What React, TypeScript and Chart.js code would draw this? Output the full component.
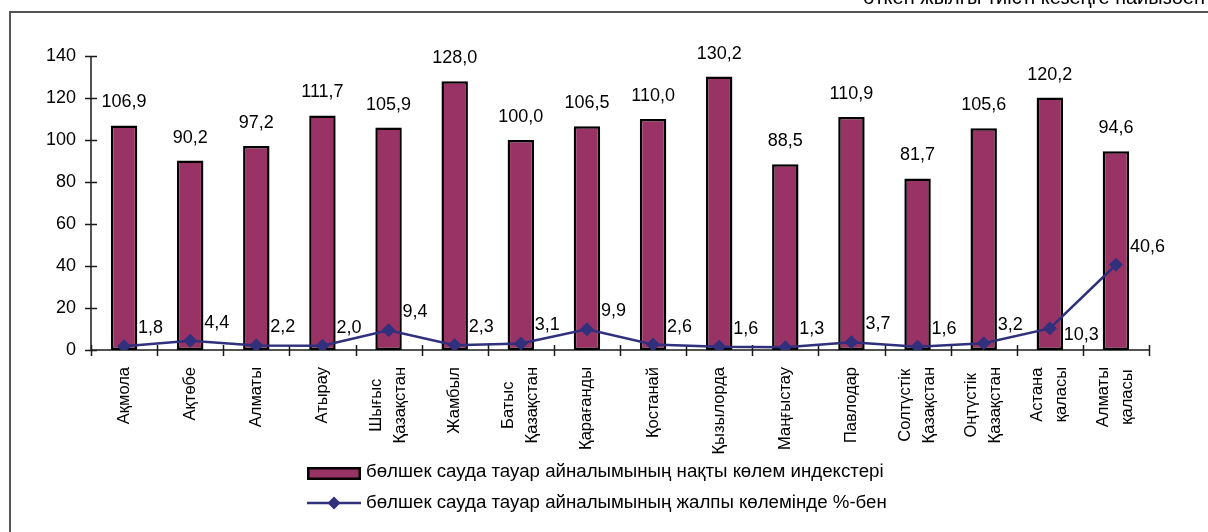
import { useEffect, useRef } from 'react';
import { Chart, registerables } from 'chart.js';

Chart.register(...registerables);

const FONT = '"Liberation Sans", Arial, Helvetica, sans-serif';

const categories: string[][] = [
  ['Ақмола'],
  ['Ақтөбе'],
  ['Алматы'],
  ['Атырау'],
  ['Шығыс', 'Қазақстан'],
  ['Жамбыл'],
  ['Батыс', 'Қазақстан'],
  ['Қарағанды'],
  ['Қостанай'],
  ['Қызылорда'],
  ['Маңғыстау'],
  ['Павлодар'],
  ['Солтүстік', 'Қазақстан'],
  ['Оңтүстік', 'Қазақстан'],
  ['Астана', 'қаласы'],
  ['Алматы', 'қаласы'],
];

const volumeIndex = [106.9, 90.2, 97.2, 111.7, 105.9, 128.0, 100.0, 106.5, 110.0, 130.2, 88.5, 110.9, 81.7, 105.6, 120.2, 94.6];
const shareOfTotal = [1.8, 4.4, 2.2, 2.0, 9.4, 2.3, 3.1, 9.9, 2.6, 1.6, 1.3, 3.7, 1.6, 3.2, 10.3, 40.6];

const yTicks = [0, 20, 40, 60, 80, 100, 120, 140];

const barSeriesName = 'бөлшек сауда тауар айналымының нақты көлем индекстері';
const lineSeriesName = 'бөлшек сауда тауар айналымының жалпы көлемінде %-бен';
const cornerText = 'өткен жылғы тиісті кезеңге пайызбен';

const BAR_COLOR = '#993366';
const LINE_COLOR = '#30307C';
const AXIS_COLOR = '#1a1a1a';

const fmt = (v: number) => v.toFixed(1).replace('.', ',');

export default function App() {
  const ref = useRef<HTMLCanvasElement>(null);

  useEffect(() => {
    const canvas = ref.current;
    if (!canvas) return;

    const decor = {
      id: 'decor',
      beforeDatasetsDraw(chart: any) {
        const ctx = chart.ctx as CanvasRenderingContext2D;
        const xs = chart.scales.x;
        const ys = chart.scales.y;
        const area = chart.chartArea;
        ctx.save();
        // outer frame
        ctx.strokeStyle = '#555';
        ctx.lineWidth = 2;
        ctx.beginPath();
        ctx.moveTo(1208, 12);
        ctx.lineTo(10, 12);
        ctx.lineTo(10, 532);
        ctx.stroke();
        // corner text (cut off at top)
        ctx.fillStyle = '#000';
        ctx.font = `20px ${FONT}`;
        ctx.textAlign = 'right';
        ctx.textBaseline = 'alphabetic';
        ctx.fillText(cornerText, 1205, 4);
        // axes
        ctx.strokeStyle = AXIS_COLOR;
        ctx.lineWidth = 1.5;
        ctx.beginPath();
        ctx.moveTo(area.left, area.top);
        ctx.lineTo(area.left, area.bottom);
        ctx.lineTo(area.right, area.bottom);
        yTicks.forEach((t) => {
          const y = Math.round(ys.getPixelForValue(t)) + 0.5;
          ctx.moveTo(area.left - 6, y);
          ctx.lineTo(area.left + 6, y);
        });
        for (let i = 0; i <= categories.length; i++) {
          const x = Math.round(xs.getPixelForValue(i - 0.5)) + 0.5;
          ctx.moveTo(x, area.bottom - 5);
          ctx.lineTo(x, area.bottom + 6);
        }
        ctx.stroke();
        ctx.restore();
      },
      afterDatasetsDraw(chart: any) {
        const ctx = chart.ctx as CanvasRenderingContext2D;
        const xs = chart.scales.x;
        const area = chart.chartArea;
        ctx.save();
        ctx.fillStyle = '#000';
        // bar value labels
        ctx.font = `18px ${FONT}`;
        ctx.textAlign = 'center';
        ctx.textBaseline = 'middle';
        const barMeta = chart.getDatasetMeta(1);
        barMeta.data.forEach((el: any, i: number) => {
          ctx.fillText(fmt(volumeIndex[i]), el.x, el.y - 23);
        });
        // line value labels
        ctx.textAlign = 'left';
        const lineMeta = chart.getDatasetMeta(0);
        lineMeta.data.forEach((el: any, i: number) => {
          const below = i === 14;
          ctx.fillText(fmt(shareOfTotal[i]), el.x + 14, below ? el.y + 7 : el.y - 18);
        });
        // category labels, rotated
        ctx.font = `16.5px ${FONT}`;
        categories.forEach((lines, i) => {
          const x = xs.getPixelForValue(i);
          const maxW = Math.max(...lines.map((l) => ctx.measureText(l).width));
          ctx.save();
          ctx.translate(x, area.bottom + 17);
          ctx.rotate(-Math.PI / 2);
          ctx.textAlign = 'center';
          ctx.textBaseline = 'middle';
          lines.forEach((l, j) => {
            const off = (j - (lines.length - 1) / 2) * 24;
            ctx.fillText(l, -maxW / 2, off);
          });
          ctx.restore();
        });
        // legend
        ctx.textAlign = 'left';
        ctx.textBaseline = 'middle';
        ctx.fillStyle = BAR_COLOR;
        ctx.fillRect(307, 467, 54, 13);
        ctx.strokeStyle = '#000';
        ctx.lineWidth = 2.5;
        ctx.strokeRect(308.25, 468.25, 51.5, 10.5);
        ctx.fillStyle = '#000';
        ctx.font = `18.7px ${FONT}`;
        ctx.fillText(barSeriesName, 366, 472);
        ctx.strokeStyle = LINE_COLOR;
        ctx.lineWidth = 2.5;
        ctx.beginPath();
        ctx.moveTo(307, 503);
        ctx.lineTo(361, 503);
        ctx.stroke();
        ctx.fillStyle = LINE_COLOR;
        ctx.beginPath();
        ctx.moveTo(334 - 6.5, 503);
        ctx.lineTo(334, 503 - 6.5);
        ctx.lineTo(334 + 6.5, 503);
        ctx.lineTo(334, 503 + 6.5);
        ctx.closePath();
        ctx.fill();
        ctx.fillStyle = '#000';
        ctx.fillText(lineSeriesName, 366, 503);
        ctx.restore();
      },
    };

    const chart = new Chart(canvas, {
      type: 'bar',
      data: {
        labels: categories.map((c) => c.join(' ')),
        datasets: [
          {
            type: 'line',
            label: lineSeriesName,
            data: shareOfTotal,
            borderColor: LINE_COLOR,
            backgroundColor: LINE_COLOR,
            borderWidth: 2.5,
            pointStyle: 'rectRot',
            pointRadius: 6.5,
            pointHoverRadius: 6.5,
            pointBackgroundColor: LINE_COLOR,
            pointBorderColor: LINE_COLOR,
            pointBorderWidth: 1,
            tension: 0,
            order: 0,
          } as any,
          {
            type: 'bar',
            label: barSeriesName,
            data: volumeIndex,
            backgroundColor: BAR_COLOR,
            borderColor: '#000',
            borderWidth: 2.5,
            borderSkipped: false,
            barPercentage: 0.4,
            categoryPercentage: 1,
            order: 1,
          } as any,
        ],
      },
      options: {
        responsive: false,
        animation: false,
        events: [],
        layout: { padding: { left: 0, right: 59, top: 56, bottom: 0 } },
        plugins: {
          legend: { display: false },
          tooltip: { enabled: false },
          title: { display: false },
        },
        scales: {
          x: {
            type: 'category',
            offset: true,
            grid: { display: false, drawTicks: false },
            border: { display: false },
            ticks: { display: false },
            afterFit: (s: any) => {
              s.height = 182;
            },
          },
          y: {
            min: 0,
            max: 140,
            ticks: {
              stepSize: 20,
              padding: 15,
              color: '#000',
              font: { size: 18, family: FONT },
            },
            grid: { display: false, drawTicks: false },
            border: { display: false },
            afterFit: (s: any) => {
              s.width = 91;
            },
          },
        },
      } as any,
      plugins: [decor],
    });

    return () => chart.destroy();
  }, []);

  return (
    <div style={{ position: 'fixed', left: 0, top: 0, width: 1208, height: 532, background: '#fff' }}>
      <canvas ref={ref} width={1208} height={532} style={{ display: 'block' }} />
    </div>
  );
}
